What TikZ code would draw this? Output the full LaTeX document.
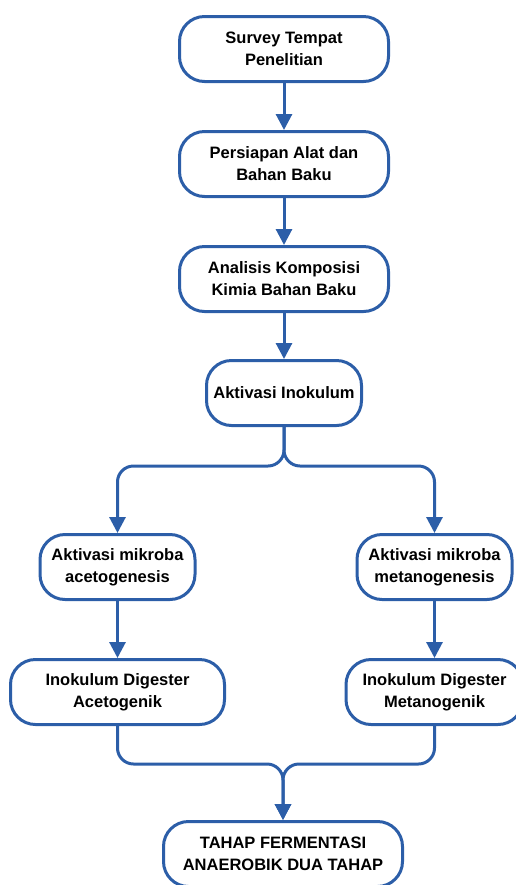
\documentclass[tikz,border=0pt]{standalone}
\usepackage{fontspec}
\setmainfont{Liberation Sans}
\usetikzlibrary{arrows.meta,positioning}
\definecolor{flowblue}{RGB}{44,94,168}
\tikzset{
stage/.style={draw=flowblue,line width=1.5pt,rounded corners=12.5pt,minimum height=32.5pt,align=center,fill=white,font=\fontsize{8.25pt}{11pt}\selectfont\bfseries},
flow/.style={draw=flowblue,line width=1.5pt,rounded corners=8pt,-{Triangle[length=8pt,width=8pt]}}
}
\begin{document}
\begin{tikzpicture}[node distance=23.5pt]
\useasboundingbox (0,0) rectangle (257.5pt,-442.5pt);
\node[stage,minimum width=104.5pt] (survey) at (142pt,-24.5pt) {Survey Tempat\\Penelitian};
\node[stage,minimum width=104.5pt,below=of survey] (persiapan) {Persiapan Alat dan\\Bahan Baku};
\node[stage,minimum width=104.5pt,below=of persiapan] (analisis) {Analisis Komposisi\\Kimia Bahan Baku};
\node[stage,minimum width=77.5pt,below=23pt of analisis] (inokulum) {Aktivasi Inokulum};
\node[stage,minimum width=77.5pt,below=53pt of inokulum,xshift=-83.25pt] (aceto) {Aktivasi mikroba\\acetogenesis};
\node[stage,minimum width=77.5pt,below=53pt of inokulum,xshift=75.25pt] (metano) {Aktivasi mikroba\\metanogenesis};
\node[stage,minimum width=107pt,below=28.5pt of aceto] (digaceto) {Inokulum Digester\\Acetogenik};
\node[stage,minimum width=88.5pt,below=28.5pt of metano] (digmetano) {Inokulum Digester\\Metanogenik};
\node[stage,minimum width=119.5pt,below=47pt of digaceto,xshift=82.75pt] (tahap) {TAHAP FERMENTASI\\ANAEROBIK DUA TAHAP};
\draw[flow](survey)--(persiapan);\draw[flow](persiapan)--(analisis);\draw[flow](analisis)--(inokulum);
\draw[flow](inokulum.south)--++(0,-19.5pt)-|(aceto.north);
\draw[flow](inokulum.south)--++(0,-19.5pt)-|(metano.north);
\draw[flow](aceto)--(digaceto);\draw[flow](metano)--(digmetano);
\draw[flow](digaceto.south)--++(0,-19pt)-|(tahap.north);
\draw[flow](digmetano.south)--++(0,-19pt)-|(tahap.north);
\end{tikzpicture}
\end{document}
